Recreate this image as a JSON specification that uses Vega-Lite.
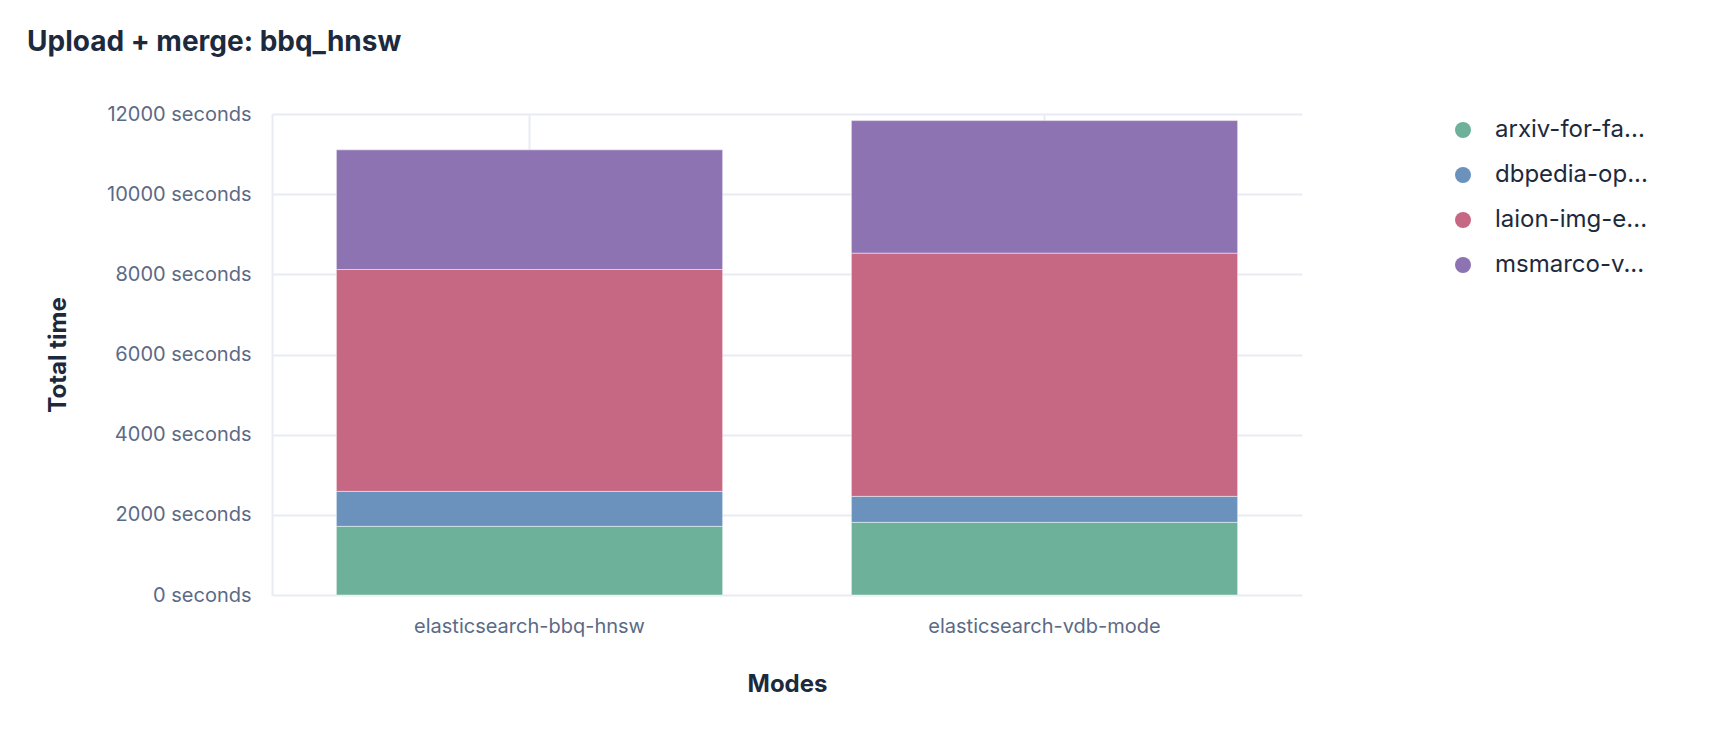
{
  "$schema": "https://vega.github.io/schema/vega-lite/v6.json",
  "width": 1030,
  "height": 481,
  "autosize": {"type": "none"},
  "padding": {"left": 272, "top": 114, "right": 428, "bottom": 143},
  "background": "#ffffff",
  "title": {
    "text": "Upload + merge: bbq_hnsw",
    "anchor": "start",
    "frame": "group",
    "dx": -245,
    "offset": 25,
    "baseline": "alphabetic",
    "font": "Inter",
    "fontSize": 28,
    "fontWeight": "bold",
    "color": "#1d2a3e"
  },
  "data": {
    "values": [
      {"mode": "elasticsearch-bbq-hnsw", "dataset": "arxiv-for-fa...", "seconds": 1713},
      {"mode": "elasticsearch-bbq-hnsw", "dataset": "dbpedia-op...", "seconds": 873},
      {"mode": "elasticsearch-bbq-hnsw", "dataset": "laion-img-e...", "seconds": 5534},
      {"mode": "elasticsearch-bbq-hnsw", "dataset": "msmarco-v...", "seconds": 2985},
      {"mode": "elasticsearch-vdb-mode", "dataset": "arxiv-for-fa...", "seconds": 1813},
      {"mode": "elasticsearch-vdb-mode", "dataset": "dbpedia-op...", "seconds": 648},
      {"mode": "elasticsearch-vdb-mode", "dataset": "laion-img-e...", "seconds": 6068},
      {"mode": "elasticsearch-vdb-mode", "dataset": "msmarco-v...", "seconds": 3306}
    ]
  },
  "mark": {"type": "bar", "stroke": "#ffffff", "strokeWidth": 1, "strokeOpacity": 0.45},
  "encoding": {
    "x": {
      "field": "mode",
      "type": "nominal",
      "title": "Modes",
      "scale": {"paddingInner": 0.25, "paddingOuter": 0.125},
      "axis": {
        "labelAngle": 0,
        "labelFont": "Inter",
        "labelFontSize": 20,
        "labelColor": "#5b6a86",
        "labelPadding": 37,
        "labelBaseline": "alphabetic",
        "labelLimit": 400,
        "ticks": false,
        "tickSize": 0,
        "domain": false,
        "grid": true,
        "bandPosition": 0.5,
        "gridColor": "#e8ebf3",
        "gridWidth": 2,
        "titleFont": "Inter",
        "titleFontSize": 24,
        "titleFontWeight": "bold",
        "titleColor": "#1d2a3e",
        "titleX": 515,
        "titleY": 96,
        "titleBaseline": "alphabetic"
      }
    },
    "y": {
      "field": "seconds",
      "type": "quantitative",
      "stack": "zero",
      "title": "Total time",
      "scale": {"domain": [0, 12000]},
      "axis": {
        "values": [0, 2000, 4000, 6000, 8000, 10000, 12000],
        "labelExpr": "datum.value + ' seconds'",
        "labelFont": "Inter",
        "labelFontSize": 20,
        "labelColor": "#5b6a86",
        "labelPadding": 21,
        "ticks": false,
        "tickSize": 0,
        "domain": true,
        "domainColor": "#e8ebf3",
        "domainWidth": 2,
        "grid": true,
        "gridColor": "#e8ebf3",
        "gridWidth": 2,
        "titleFont": "Inter",
        "titleFontSize": 24,
        "titleFontWeight": "bold",
        "titleColor": "#1d2a3e",
        "titleAngle": 270,
        "titleAlign": "center",
        "titleBaseline": "alphabetic",
        "titleX": -207,
        "titleY": 240.5
      }
    },
    "order": {"field": "dataset", "sort": "ascending"},
    "color": {
      "field": "dataset",
      "type": "nominal",
      "scale": {
        "domain": ["arxiv-for-fa...", "dbpedia-op...", "laion-img-e...", "msmarco-v..."],
        "range": ["#6db19a", "#6b91bd", "#c66884", "#8d73b2"]
      },
      "legend": {
        "orient": "none",
        "legendX": 1179,
        "legendY": 4,
        "title": null,
        "padding": 0,
        "symbolType": "circle",
        "symbolSize": 256,
        "symbolStrokeWidth": 0,
        "symbolOpacity": 1,
        "labelFont": "Inter",
        "labelFontSize": 24,
        "labelColor": "#1d2a3e",
        "labelOffset": 20,
        "labelLimit": 400,
        "rowPadding": 21
      }
    }
  },
  "config": {
    "view": {"stroke": null}
  }
}
